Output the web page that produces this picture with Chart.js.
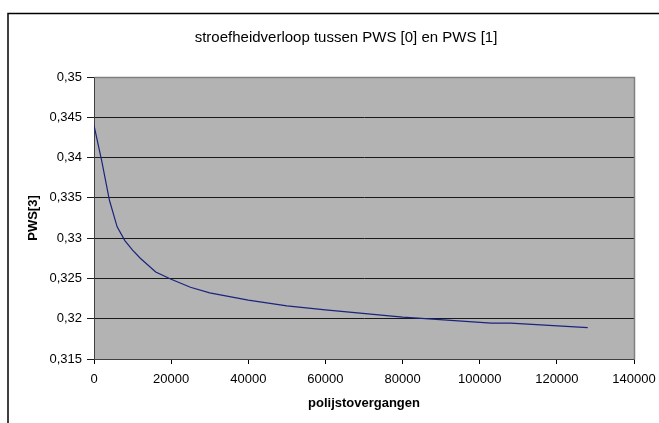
<!DOCTYPE html>
<html>
<head>
<meta charset="utf-8">
<script src="https://cdn.jsdelivr.net/npm/chart.js@4/dist/chart.umd.min.js"></script>
<style>
  html, body { margin: 0; padding: 0; background: #ffffff; }
  #wrap { width: 659px; height: 423px; }
</style>
</head>
<body>
<div id="wrap"><canvas id="c" width="659" height="423"></canvas></div>
<script>
// ---- data ----
const chartTitle = "stroefheidverloop tussen PWS [0] en PWS [1]";
const xTitle = "polijstovergangen";
const yTitle = "PWS[3]";
const xValues = [0, 2000, 4000, 6000, 8000, 10000, 12000, 16000, 20000, 25000, 30000, 40000, 50000, 60000, 80000, 83000, 103000, 108000, 128000];
const yValues = [0.344, 0.3396, 0.3347, 0.3314, 0.3297, 0.3285, 0.3275, 0.3258, 0.3249, 0.3239, 0.3232, 0.3223, 0.3216, 0.3211, 0.3202, 0.3201, 0.31945, 0.31945, 0.3189];
const xTicks = [0, 20000, 40000, 60000, 80000, 100000, 120000, 140000];
const yTickLabels = ["0,315", "0,32", "0,325", "0,33", "0,335", "0,34", "0,345", "0,35"];

const points = xValues.map((x, i) => ({ x: x, y: yValues[i] }));

const framePlugin = {
  id: 'frame',
  afterLayout(chart) {
    if (chart.titleBlock) { chart.titleBlock.left = 58; chart.titleBlock.right = 634; }
  },
  beforeDraw(chart) {
    const ctx = chart.ctx;
    const a = chart.chartArea;
    ctx.save();
    ctx.fillStyle = '#ffffff';
    ctx.fillRect(0, 0, chart.width, chart.height);
    ctx.strokeStyle = '#000000';
    ctx.lineWidth = 1.5;
    ctx.strokeRect(8, 13.5, 700, 500);
    ctx.fillStyle = '#b3b3b3';
    ctx.fillRect(a.left, a.top, a.right - a.left, a.bottom - a.top);
    ctx.restore();
  },
  afterDatasetsDraw(chart) {
    const ctx = chart.ctx;
    const a = chart.chartArea;
    ctx.save();
    ctx.strokeStyle = '#808080';
    ctx.lineWidth = 1.5;
    ctx.beginPath();
    ctx.moveTo(Math.round(a.left) + 0.5, Math.round(a.top) + 0.5);
    ctx.lineTo(Math.round(a.right) + 0.5, Math.round(a.top) + 0.5);
    ctx.lineTo(Math.round(a.right) + 0.5, Math.round(a.bottom) + 0.5);
    ctx.stroke();
    ctx.restore();
  }
};

new Chart(document.getElementById('c'), {
  type: 'line',
  data: {
    datasets: [{
      data: points,
      borderColor: '#1a237e',
      borderWidth: 1.2,
      pointRadius: 0,
      fill: false,
      tension: 0
    }]
  },
  plugins: [framePlugin],
  options: {
    responsive: false,
    animation: false,
    devicePixelRatio: 1,
    layout: { padding: { left: 20, right: 25, top: 0, bottom: 0 } },
    plugins: {
      legend: { display: false },
      tooltip: { enabled: false },
      title: {
        display: true,
        text: chartTitle,
        color: '#000000',
        font: { family: 'Liberation Sans, Arial, sans-serif', size: 15, weight: 'normal', lineHeight: 1.2 },
        padding: { top: 29, bottom: 30 }
      }
    },
    scales: {
      x: {
        type: 'linear',
        min: 0,
        max: 140000,
        afterBuildTicks(scale) { scale.ticks = xTicks.map(v => ({ value: v })); },
        afterFit(scale) { scale.height = 64; scale.paddingLeft = 0; scale.paddingRight = 0; },
        ticks: {
          color: '#000000',
          font: { family: 'Liberation Sans, Arial, sans-serif', size: 13 },
          padding: 8,
          maxRotation: 0,
          callback: (v) => String(v)
        },
        grid: { drawOnChartArea: false, drawTicks: true, tickLength: 5, color: '#000000' },
        border: { display: true, color: '#404040', width: 1 },
        title: {
          display: true,
          text: xTitle,
          color: '#000000',
          font: { family: 'Liberation Sans, Arial, sans-serif', size: 13, weight: 'bold' },
          padding: { top: 4, bottom: 12 }
        }
      },
      y: {
        type: 'linear',
        min: 0.315,
        max: 0.35,
        afterBuildTicks(scale) { scale.ticks = yTickLabels.map((t, i) => ({ value: 0.315 + i * 0.005 })); },
        afterFit(scale) { scale.width = 74; scale.paddingTop = 0; scale.paddingBottom = 0; },
        ticks: {
          color: '#000000',
          font: { family: 'Liberation Sans, Arial, sans-serif', size: 13 },
          padding: 5,
          callback: (v, i) => yTickLabels[i]
        },
        grid: { drawOnChartArea: true, drawTicks: true, tickLength: 7, color: '#1a1a1a', lineWidth: 1 },
        border: { display: true, color: '#404040', width: 1 },
        title: {
          display: true,
          text: yTitle,
          color: '#000000',
          font: { family: 'Liberation Sans, Arial, sans-serif', size: 13, weight: 'bold' },
          padding: { top: 6, bottom: 0 }
        }
      }
    }
  }
});
</script>
</body>
</html>
